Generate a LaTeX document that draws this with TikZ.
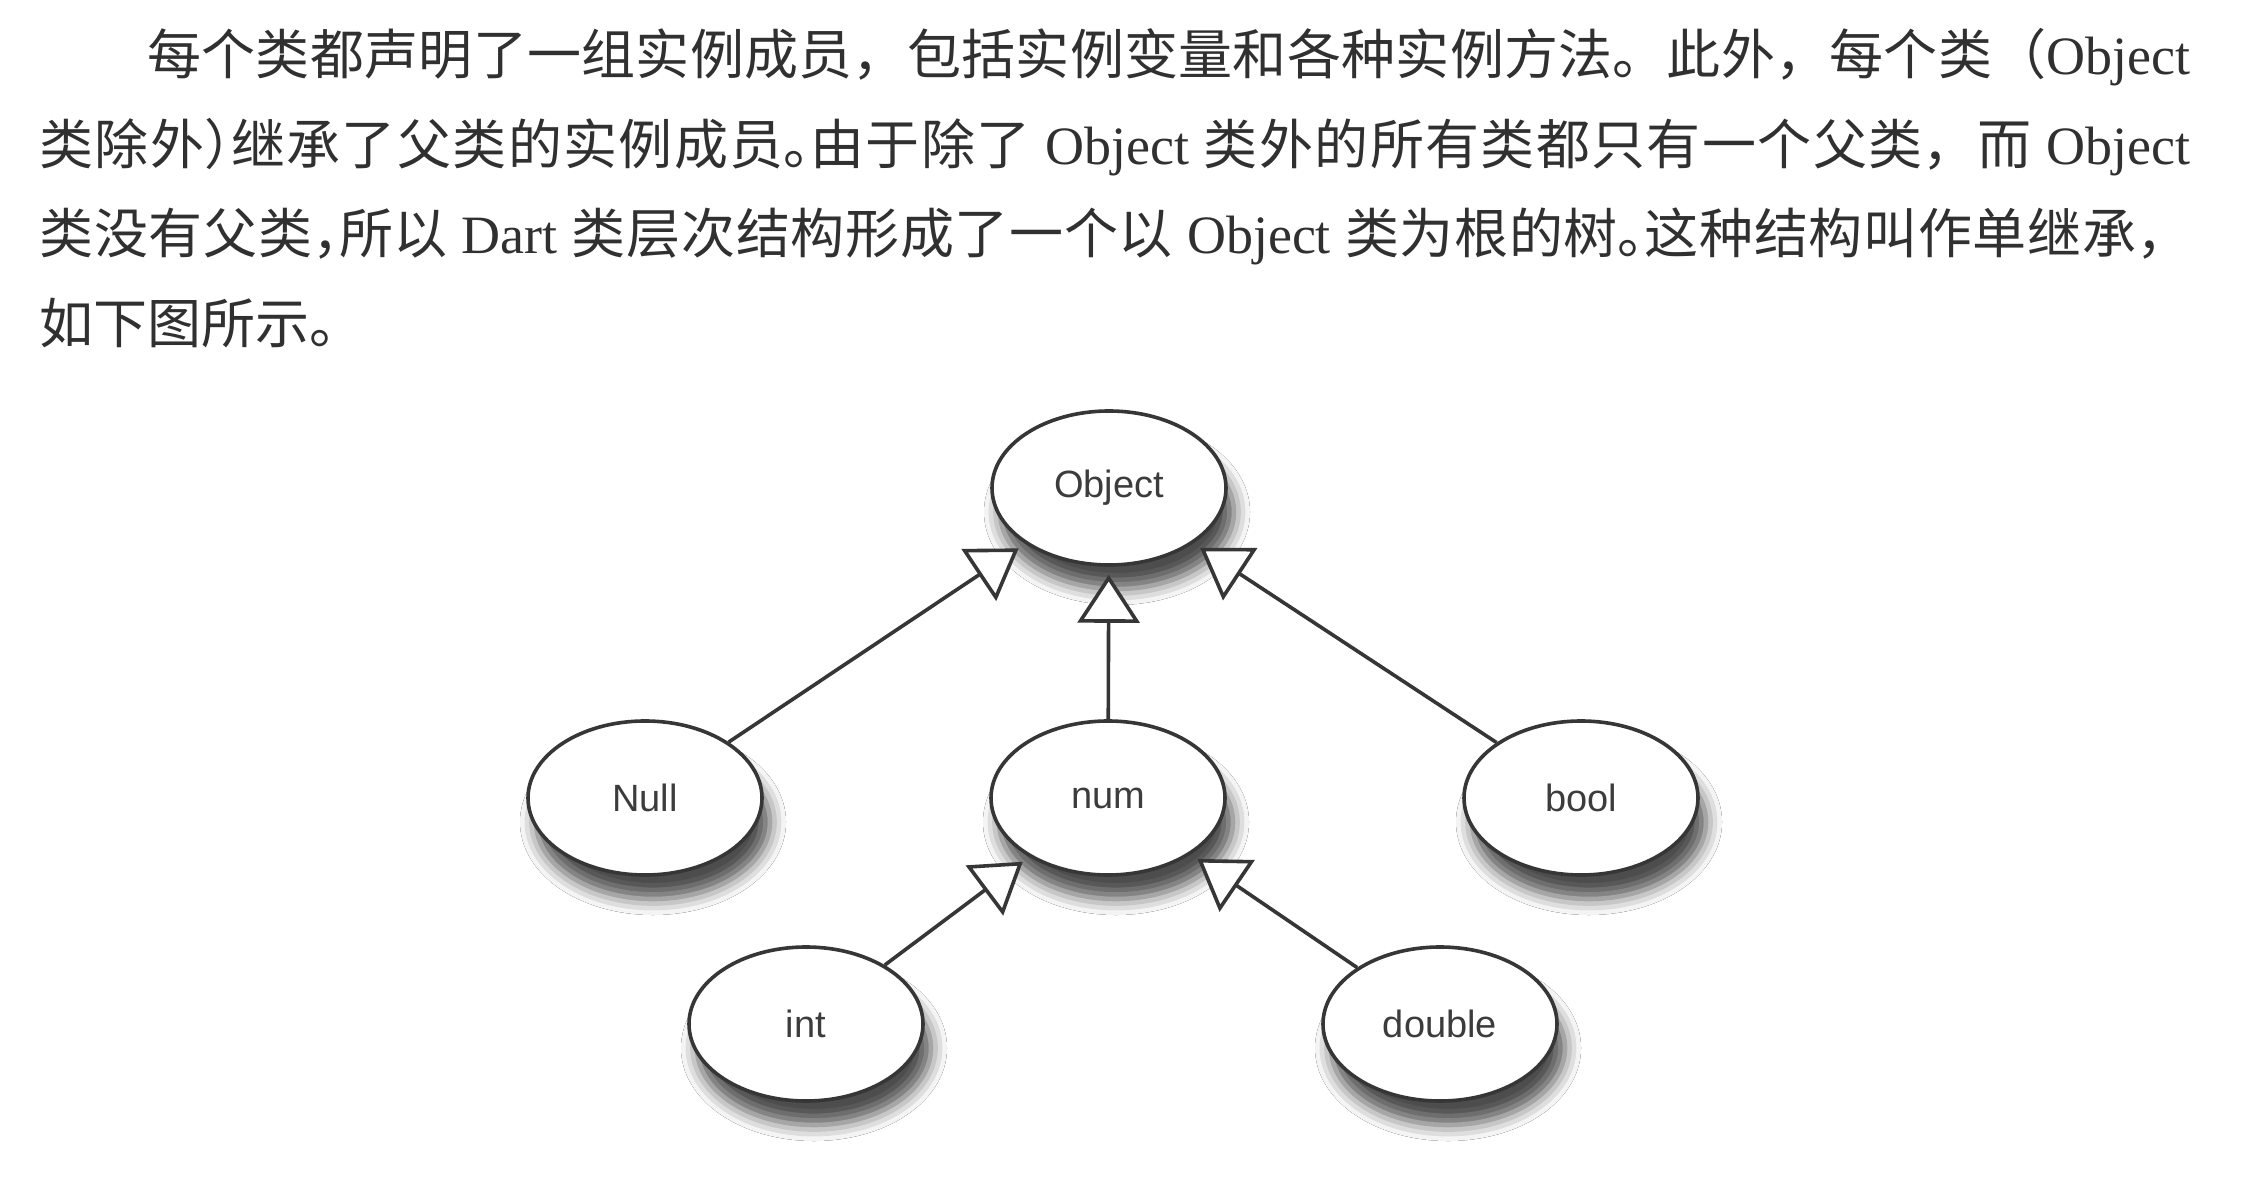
\documentclass[tikz,border=0pt]{standalone}
\usepackage{fontspec}
\usepackage{tikz}
\usetikzlibrary{arrows.meta,shapes.geometric,shadows.blur}
\setmainfont{Liberation Serif}
\newfontfamily\cjk{Noto Sans CJK SC}
\newfontfamily\lsans{Liberation Sans}
\definecolor{inkgray}{HTML}{363636}
\definecolor{textgray}{HTML}{303030}
\definecolor{labelgray}{HTML}{3C3C3C}
\newcommand\hwp[1]{#1\kern-.5em}

\begin{document}
\begin{tikzpicture}[x=.5pt,y=-.5pt,
  textline/.style={anchor=base west,inner sep=0pt,text width=1075.5pt,align=justify,
    font=\cjk\fontsize{27}{27}\selectfont,text=textgray,
    execute at begin node={\XeTeXlinebreaklocale "zh"\XeTeXlinebreakskip=0pt plus 4pt minus .5pt\parfillskip=0pt\tolerance=10000\relax}},
  classnode/.style={ellipse,draw=inkgray,line width=1.8pt,fill=white,
    minimum width=117pt,minimum height=77pt,inner sep=0pt,
    font=\lsans\fontsize{19}{19}\selectfont,text=labelgray,
    blur shadow={shadow xshift=4pt,shadow yshift=-12pt,shadow blur radius=8pt,shadow opacity=70}},
  inherit/.style={draw=inkgray,line width=1.8pt,shorten >=4pt,
    -{Triangle[fill=white,length=24pt,width=31pt]}}]
\fill[white] (0,0) rectangle (2256,1192);
\useasboundingbox (0,0) rectangle (2256,1192);
% Paragraph
\node at (39,75) [textline] (Line1) {\hspace*{2em}每个类都声明了一组实例成员，包括实例变量和各种实例方法。此外，每个类（{\rmfamily Object}};
\node at (39,165) [textline] (Line2) {类除外\hwp{）}继承了父类的实例成员\hwp{。}由于除了{\rmfamily\ Object }类外的所有类都只有一个父类，而{\rmfamily\ Object}};
\node at (39,254) [textline] (Line3) {类没有父类\hwp{，}所以{\rmfamily\ Dart }类层次结构形成了一个以{\rmfamily\ Object }类为根的树\hwp{。}这种结构叫作单继承，};
\node at (39,344) [anchor=base west,inner sep=0pt,font=\cjk\fontsize{27}{27}\selectfont,text=textgray] (Line4) {如下图所示。};
% Class Nodes
\node at (1109,488) [classnode] (NodeObject) {Object};
\node at (645,798) [classnode] (NodeNull) {Null};
\node at (1108,798) [classnode] (NodeNum) {num};
\node at (1581,798) [classnode] (NodeBool) {bool};
\node at (806,1024) [classnode] (NodeInt) {int};
\node at (1440,1024) [classnode] (NodeDouble) {double};
% Node Connections
\draw [inherit] (NodeNull) -- (NodeObject);
\draw [inherit] (NodeNum) -- (NodeObject);
\draw [inherit] (NodeBool) -- (NodeObject);
\draw [inherit] (NodeInt) -- (NodeNum);
\draw [inherit] (NodeDouble) -- (NodeNum);
\end{tikzpicture}
\end{document}
